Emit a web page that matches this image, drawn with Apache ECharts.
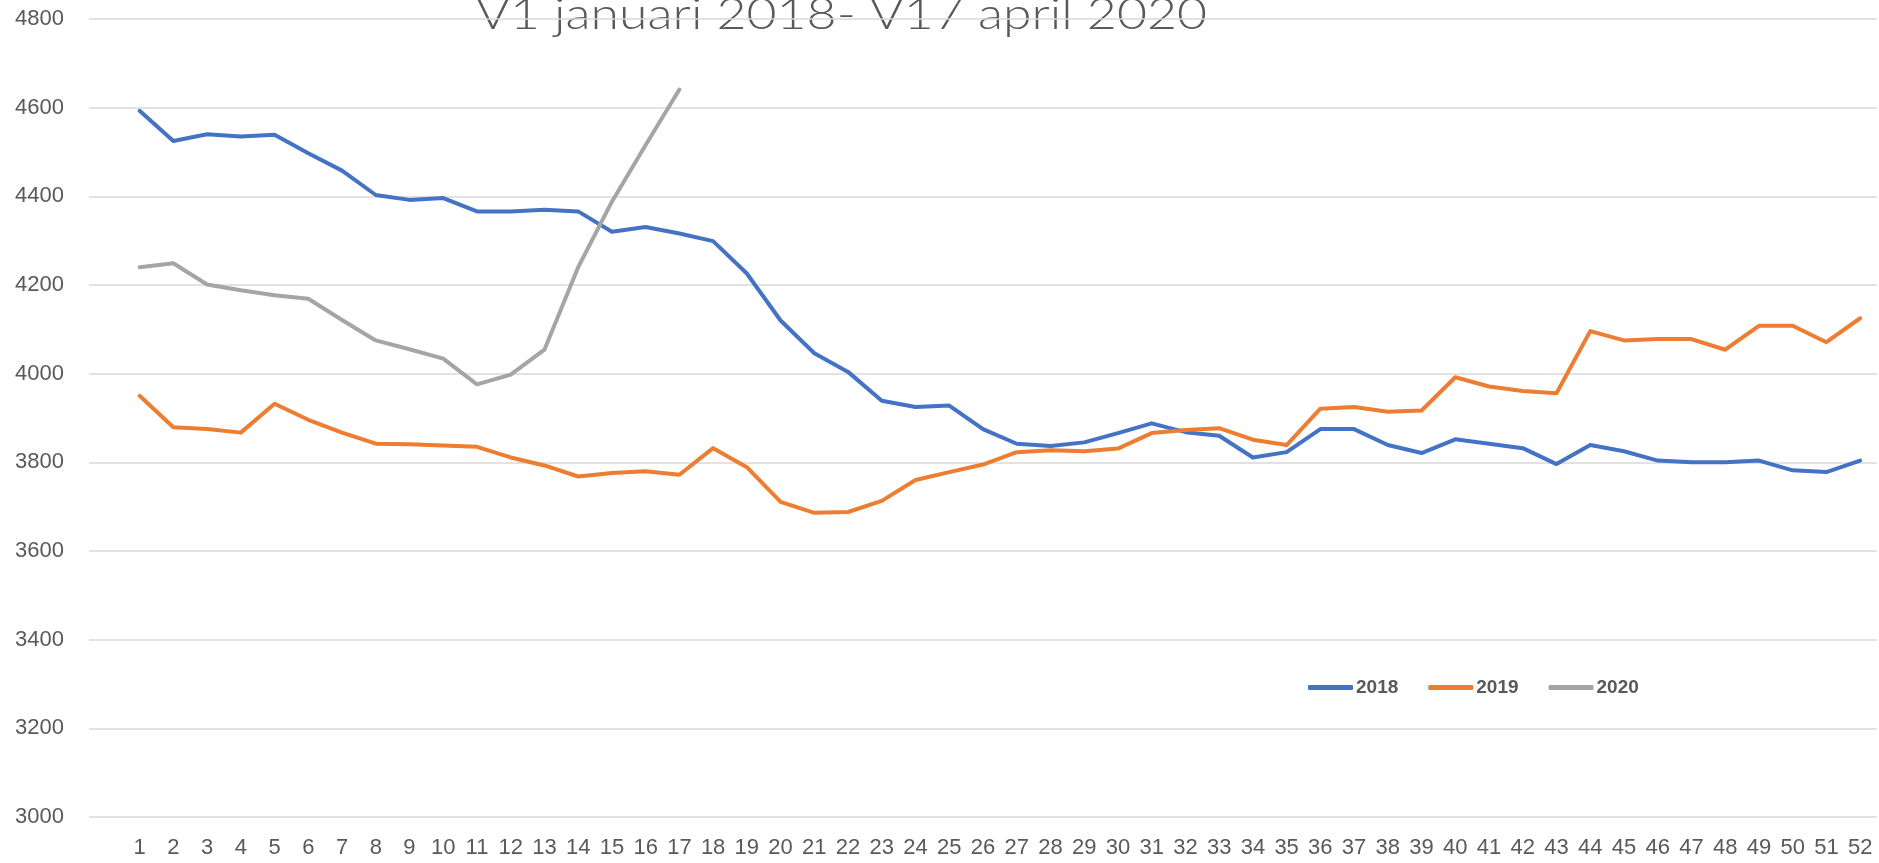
<!DOCTYPE html>
<html>
<head>
<meta charset="utf-8">
<script src="https://cdn.jsdelivr.net/npm/echarts@6/dist/echarts.min.js"></script>
<style>
html,body{margin:0;padding:0;background:#fff;}
#c{width:1879px;height:863px;}
</style>
</head>
<body>
<div id="c"></div>
<script>
const TITLE = 'V1 januari 2018- V17 april 2020';
const weeks = ['1','2','3','4','5','6','7','8','9','10','11','12','13','14','15','16','17','18','19','20','21','22','23','24','25','26','27','28','29','30','31','32','33','34','35','36','37','38','39','40','41','42','43','44','45','46','47','48','49','50','51','52'];
const yTicks = [3000, 4800, 200]; // min, max, step
const s2018 = [4593,4525,4540,4535,4539,4497,4458,4403,4392,4396,4366,4366,4370,4366,4320,4331,4316,4299,4226,4120,4046,4004,3939,3925,3928,3875,3842,3837,3845,3866,3888,3868,3860,3811,3823,3875,3875,3839,3821,3852,3842,3832,3796,3839,3825,3804,3800,3800,3804,3782,3778,3804];
const s2019 = [3950,3879,3875,3867,3932,3896,3867,3842,3841,3838,3835,3811,3793,3768,3776,3780,3772,3832,3789,3711,3686,3688,3713,3760,3778,3795,3823,3827,3825,3831,3866,3873,3877,3851,3839,3921,3925,3914,3917,3992,3971,3961,3956,4096,4075,4078,4078,4054,4108,4108,4071,4125];
const s2020 = [4240,4249,4201,4188,4177,4169,4121,4075,4055,4034,3976,3998,4054,4240,4388,4516,4641];
const names = ['2018','2019','2020'];
const colors = ['#4472C4','#ED7D31','#A5A5A5'];

const titleFont = '300 43px Lato, "Liberation Sans", sans-serif';
const mctx = document.createElement('canvas').getContext('2d');
mctx.font = titleFont;
const titleW = mctx.measureText(TITLE).width;
const titleScale = 731 / titleW;

const cats = [''].concat(weeks);
const toPairs = arr => arr.map((v, i) => [weeks[i], v]);

const chart = echarts.init(document.getElementById('c'), null, {renderer: 'canvas'});
chart.setOption({
  animation: false,
  backgroundColor: '#ffffff',
  grid: {left: 89, right: 2, top: 19, bottom: 46, containLabel: false},
  xAxis: {
    type: 'category',
    data: cats,
    boundaryGap: true,
    axisLine: {show: false},
    axisTick: {show: false},
    axisLabel: {
      interval: 0,
      margin: 20,
      color: '#595959',
      fontSize: 22,
      fontFamily: '"Liberation Sans Narrow", "Liberation Sans", sans-serif'
    },
    splitLine: {show: false}
  },
  yAxis: {
    type: 'value',
    min: yTicks[0], max: yTicks[1], interval: yTicks[2],
    axisLine: {show: false},
    axisTick: {show: false},
    axisLabel: {
      margin: 25,
      color: '#595959',
      fontSize: 22,
      fontFamily: '"Liberation Sans", sans-serif',
      formatter: v => String(v)
    },
    splitLine: {show: true, lineStyle: {color: '#d9d9d9', width: 1.5}}
  },
  legend: {
    left: 1303, top: 673,
    icon: 'roundRect',
    itemWidth: 45, itemHeight: 5,
    itemGap: 30,
    textStyle: {color: '#595959', fontSize: 19, fontWeight: 'bold', fontFamily: '"Liberation Sans", sans-serif', padding: [0,0,0,-2]},
    data: names
  },
  graphic: [{
    type: 'text',
    x: 476, y: 15,
    scaleX: titleScale,
    style: {
      text: TITLE,
      font: titleFont,
      fill: '#595959',
      align: 'left',
      verticalAlign: 'middle'
    }
  }],
  series: [s2018, s2019, s2020].map((arr, k) => ({
    name: names[k],
    type: 'line',
    data: toPairs(arr),
    symbol: 'none',
    smooth: false,
    color: colors[k],
    lineStyle: {color: colors[k], width: 4, cap: 'round', join: 'round'}
  }))
});
</script>
</body>
</html>
